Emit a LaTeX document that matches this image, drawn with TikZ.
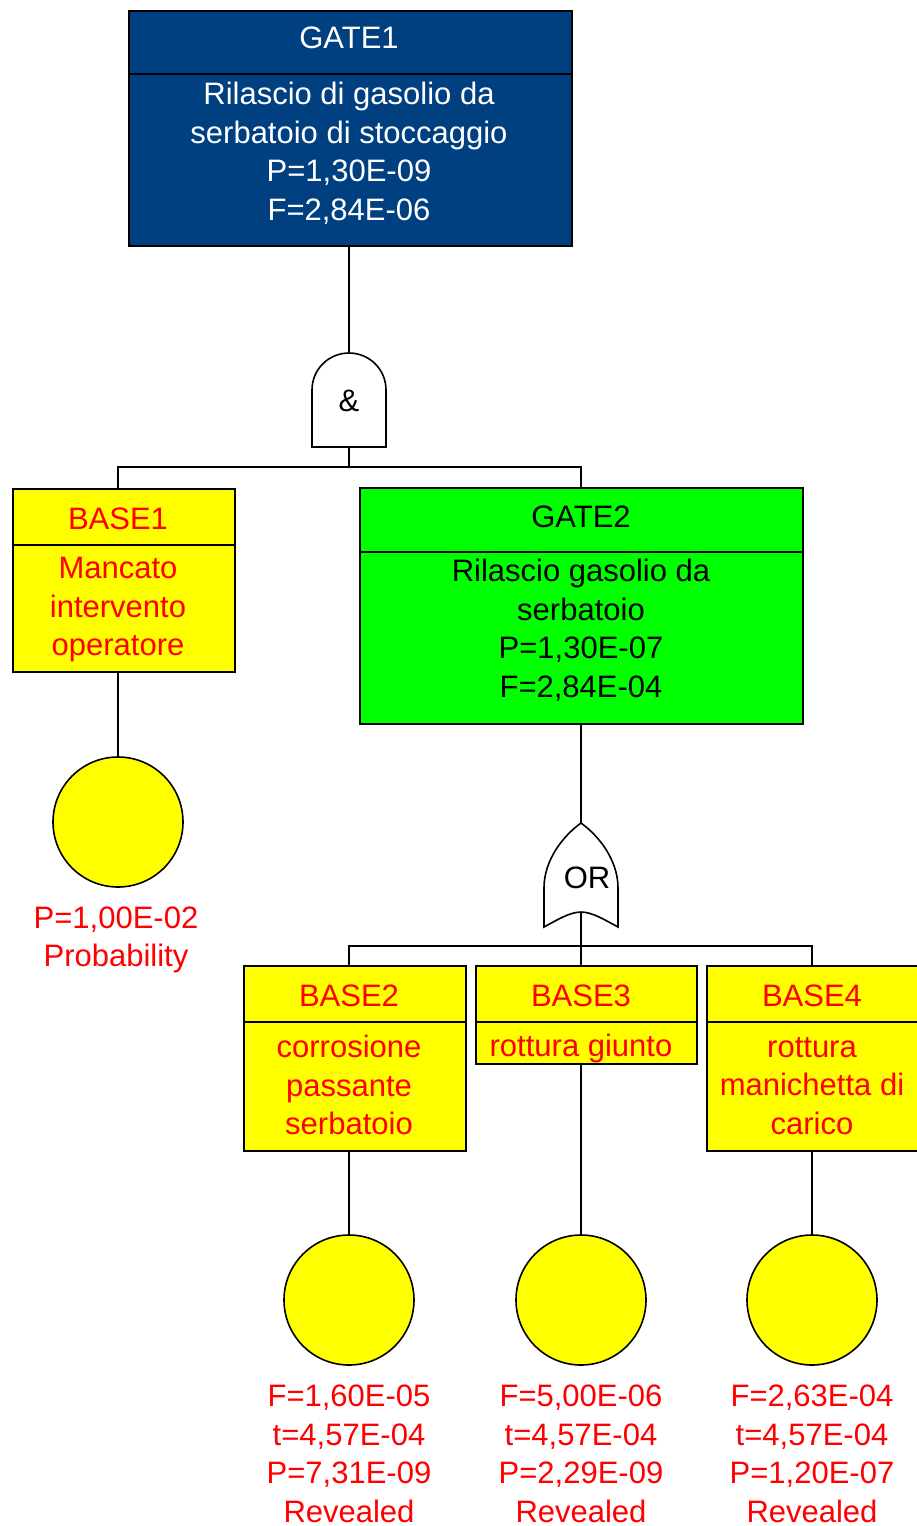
\documentclass[tikz,border=0pt]{standalone}
\usepackage{fontspec}
\setmainfont{Liberation Sans}
\definecolor{navy}{RGB}{0,64,128}
\definecolor{lime}{RGB}{0,255,0}
\definecolor{yel}{RGB}{255,255,0}
\definecolor{red}{RGB}{255,0,0}
\tikzset{
  box/.style={draw=black, line width=1.6pt, rectangle, inner sep=0pt, anchor=north west},
  txt/.style={inner sep=0pt, align=center, font=\fontsize{31}{38.5}\selectfont},
  conn/.style={draw=black, line width=1.6pt},
  gate/.style={draw=black, line width=1.6pt, fill=white},
  evt/.style={circle, draw=black, line width=1.6pt, fill=yel, minimum size=130pt, inner sep=0pt},
}
\begin{document}
\begin{tikzpicture}[x=1pt,y=-1pt]
\useasboundingbox (0,0) rectangle (917,1526);
\fill[white] (0,0) rectangle (917,1526);

% GATE1
\node[box, fill=navy, minimum width=443pt, minimum height=63pt] (g1h) at (128,10) {};
\node[box, fill=navy, minimum width=443pt, minimum height=172pt] (g1b) at (128,73) {};
\node[txt, text=white] (g1ht) at (349,38) {GATE1};
\node[txt, text=white] (g1bt) at (349,153) {Rilascio di gasolio da\\serbatoio di stoccaggio\\P=1,30E-09\\F=2,84E-06};

% AND gate
\coordinate (andtop) at (349,353);
\coordinate (andbot) at (349,447);
\coordinate (bus1) at (349,467);
\path[gate] (312,447) -- (312,390) .. controls (312,369) and (329,353) .. (andtop)
  .. controls (369,353) and (386,369) .. (386,390) -- (386,447) -- cycle;
\node[txt] (andt) at (349,401) {\&};

% BASE1
\node[box, fill=yel, minimum width=222pt, minimum height=56pt] (b1h) at (12,488) {};
\node[box, fill=yel, minimum width=222pt, minimum height=127pt] (b1b) at (12,544) {};
\node[txt, text=red] (b1ht) at (118,519) {BASE1};
\node[txt, text=red] (b1bt) at (118,610) {Mancato\\intervento\\operatore};
\node[evt] (c1) at (118,822) {};
\node[txt, text=red] (l1) at (116,940) {P=1,00E-02\\Probability};

% GATE2
\node[box, fill=lime, minimum width=443pt, minimum height=64pt] (g2h) at (359,487) {};
\node[box, fill=lime, minimum width=443pt, minimum height=172pt] (g2b) at (359,551) {};
\node[txt] (g2ht) at (581,517) {GATE2};
\node[txt] (g2bt) at (581,630) {Rilascio gasolio da\\serbatoio\\P=1,30E-07\\F=2,84E-04};

% OR gate
\coordinate (ortop) at (581,823);
\coordinate (orbot) at (581,912);
\coordinate (bus2) at (581,946);
\path[gate] (544,927) -- (544,888) .. controls (544,860) and (563,836) .. (ortop)
  .. controls (599,836) and (618,860) .. (618,888) -- (618,927)
  .. controls (605,920) and (592,912) .. (orbot)
  .. controls (570,912) and (557,920) .. (544,927) -- cycle;
\node[txt] (ort) at (587,878) {OR};

% BASE2
\node[box, fill=yel, minimum width=222pt, minimum height=56pt] (b2h) at (243,965) {};
\node[box, fill=yel, minimum width=222pt, minimum height=129pt] (b2b) at (243,1021) {};
\node[txt, text=red] (b2ht) at (349,996) {BASE2};
\node[txt, text=red] (b2bt) at (349,1085) {corrosione\\passante\\serbatoio};
\node[evt] (c2) at (349,1300) {};
\node[txt, text=red] (l2) at (349,1454) {F=1,60E-05\\t=4,57E-04\\P=7,31E-09\\Revealed};

% BASE3
\node[box, fill=yel, minimum width=221pt, minimum height=56pt] (b3h) at (475,965) {};
\node[box, fill=yel, minimum width=221pt, minimum height=42pt] (b3b) at (475,1021) {};
\node[txt, text=red] (b3ht) at (581,996) {BASE3};
\node[txt, text=red] (b3bt) at (581,1048) {rottura giunto};
\node[evt] (c3) at (581,1300) {};
\node[txt, text=red] (l3) at (581,1454) {F=5,00E-06\\t=4,57E-04\\P=2,29E-09\\Revealed};

% BASE4
\node[box, fill=yel, minimum width=213pt, minimum height=56pt] (b4h) at (706,965) {};
\node[box, fill=yel, minimum width=213pt, minimum height=129pt] (b4b) at (706,1021) {};
\node[txt, text=red] (b4ht) at (812,996) {BASE4};
\node[txt, text=red] (b4bt) at (812,1086) {rottura\\manichetta di\\carico};
\node[evt] (c4) at (812,1300) {};
\node[txt, text=red] (l4) at (812,1454) {F=2,63E-04\\t=4,57E-04\\P=1,20E-07\\Revealed};

% connectors
\draw[conn] (andtop |- g1b.south) -- (andtop);
\draw[conn] (andbot) -- (bus1);
\draw[conn] (c1.north |- b1h.north) |- (bus1) -| (ortop |- g2h.north);
\draw[conn] (c1.north |- b1b.south) -- (c1.north);
\draw[conn] (ortop |- g2b.south) -- (ortop);
\draw[conn] (orbot) -- (orbot |- b3h.north);
\draw[conn] (c2.north |- b2h.north) |- (bus2) -| (c4.north |- b4h.north);
\draw[conn] (c2.north |- b2b.south) -- (c2.north);
\draw[conn] (c3.north |- b3b.south) -- (c3.north);
\draw[conn] (c4.north |- b4b.south) -- (c4.north);
\end{tikzpicture}
\end{document}
